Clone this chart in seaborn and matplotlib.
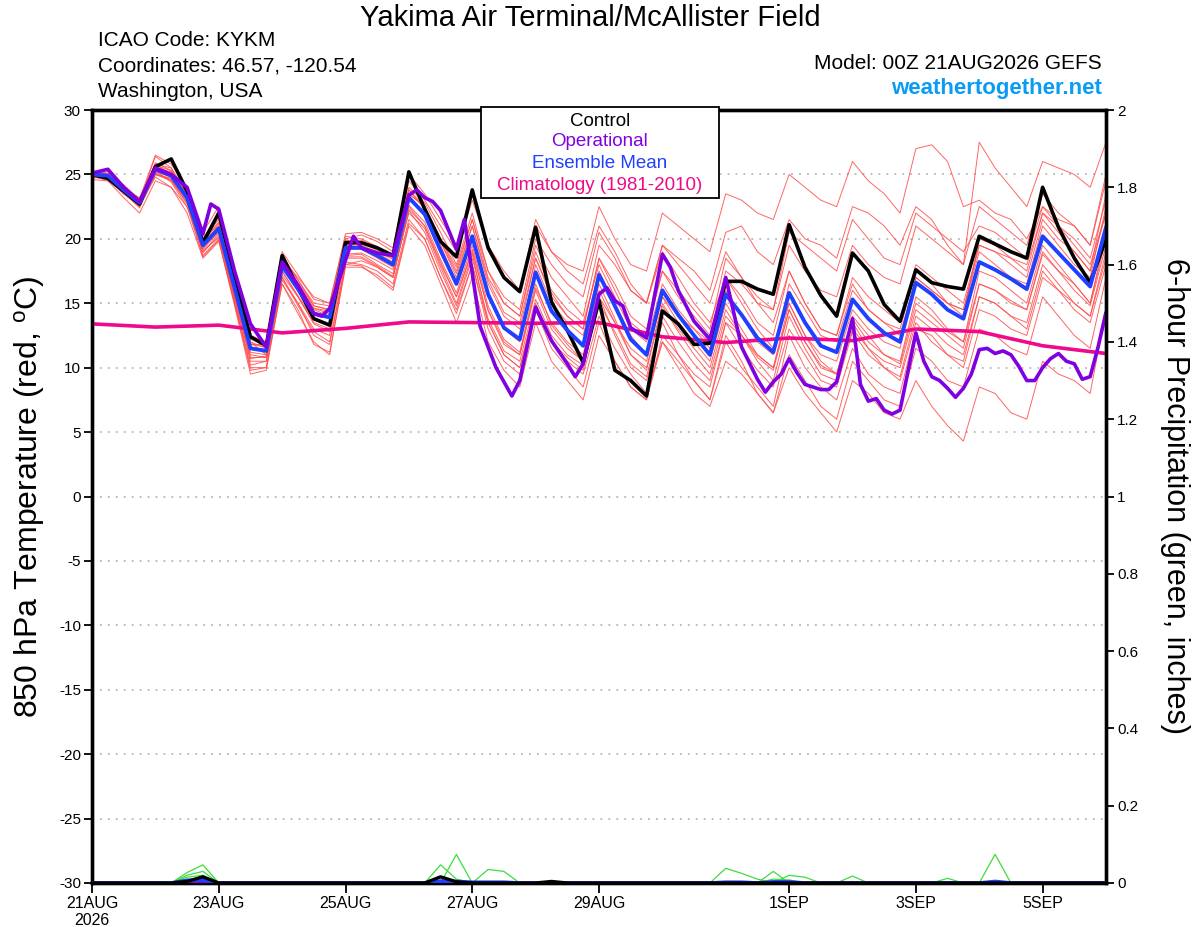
import matplotlib
matplotlib.use("Agg")
import matplotlib.pyplot as plt
import numpy as np
import pandas as pd
import seaborn as sns
from matplotlib.patches import Rectangle

# ---------------- data ----------------
forecast_hours = list(range(0, 385, 6))  # 00Z 21AUG2026 .. +384h, 6-hourly

control_temp = [25.0, 24.7, 23.7, 22.7, 25.6, 26.2, 23.7, 19.7, 22.0, 17.0, 12.4, 11.7, 18.7,
                16.2, 13.8, 13.3, 19.7, 19.7, 19.3, 18.7, 25.2, 22.3, 19.8, 18.6, 23.8, 19.3,
                17.0, 15.9, 20.9, 15.1, 12.9, 10.4, 15.2, 9.8, 9.0, 7.8, 14.4, 13.4, 11.8,
                11.9, 16.7, 16.7, 16.1, 15.7, 21.1, 17.8, 15.6, 14.0, 18.9, 17.5, 14.9, 13.6,
                17.6, 16.6, 16.3, 16.1, 20.2, 19.6, 19.0, 18.5, 24.0, 20.9, 18.5, 16.6, 20.0]

mean_temp = [25.0, 24.9, 23.8, 22.8, 25.4, 24.9, 23.2, 19.5, 20.8, 16.2, 11.5, 11.3, 17.9,
             16.1, 14.2, 13.9, 19.3, 19.3, 18.7, 18.0, 23.2, 21.9, 19.1, 16.5, 20.2, 15.7,
             13.1, 12.2, 17.4, 14.4, 12.9, 11.7, 17.2, 14.8, 12.2, 11.0, 16.0, 14.1, 12.5,
             11.0, 15.7, 14.1, 12.3, 11.2, 15.8, 13.5, 11.7, 11.2, 15.3, 13.8, 12.7, 12.0,
             16.6, 15.7, 14.5, 13.8, 18.2, 17.6, 16.9, 16.1, 20.2, 18.9, 17.6, 16.3, 20.9]

op_hours = [0, 6, 12, 18, 24, 30, 36, 42, 45, 48, 54, 60, 66, 72, 78, 84, 87, 90, 99, 102,
            108, 114, 120, 123, 126, 129, 132, 138, 141, 147, 153, 159, 162, 168, 174, 180,
            183, 186, 192, 195, 198, 201, 204, 210, 216, 219, 222, 228, 234, 240, 246, 252,
            255, 258, 261, 264, 267, 270, 276, 279, 282, 288, 291, 294, 297, 300, 303, 306,
            312, 315, 318, 321, 324, 327, 330, 333, 336, 339, 342, 345, 348, 351, 354, 357,
            360, 363, 366, 369, 372, 375, 378, 381, 384]
op_temp = [25.1, 25.4, 24.0, 22.9, 25.5, 25.0, 24.0, 20.4, 22.7, 22.3, 17.5, 13.4, 11.6, 18.2,
           16.4, 14.2, 14.0, 14.6, 20.2, 19.3, 18.9, 18.7, 23.4, 23.8, 23.2, 22.9, 22.2, 19.2,
           21.5, 13.2, 10.0, 7.8, 9.0, 14.7, 12.1, 10.3, 9.3, 10.3, 15.7, 16.2, 15.2, 14.8,
           13.1, 12.3, 18.8, 17.8, 16.0, 13.6, 12.2, 17.0, 11.6, 9.1, 8.1, 8.9, 9.5, 10.7,
           9.6, 8.7, 8.3, 8.3, 8.9, 13.8, 8.7, 7.4, 7.6, 6.7, 6.4, 6.7, 12.7, 10.5, 9.3, 9.0,
           8.4, 7.7, 8.4, 9.5, 11.4, 11.5, 11.1, 11.3, 11.0, 10.1, 9.0, 9.0, 10.0, 10.7,
           11.1, 10.5, 10.3, 9.1, 9.3, 11.6, 14.3]

clim_days = list(range(0, 17))
clim_temp = [13.4, 13.15, 13.3, 12.7, 13.05, 13.55, 13.5, 13.45, 13.5, 12.4, 11.95,
             12.3, 12.1, 13.0, 12.8, 11.7, 11.1]

member_temps = [
    [25.2, 24.6, 23.5, 22.9, 26.4, 25.5, 23.0, 20.0, 21.5, 17.0, 12.0, 11.0, 18.4, 17.0, 15.5, 15.0, 20.2, 20.0, 19.4, 18.6,
     24.5, 23.0, 21.0, 19.0, 23.0, 19.5, 17.5, 16.0, 21.0, 19.0, 18.0, 17.5, 22.5, 20.0, 18.0, 17.5, 22.0, 21.0, 20.0, 19.0,
     23.5, 23.0, 22.0, 21.5, 25.0, 24.0, 23.0, 22.5, 26.0, 24.5, 23.5, 22.0, 27.0, 27.3, 26.0, 22.5, 23.0, 22.0, 21.5, 20.0,
     22.5, 21.5, 21.0, 19.5, 25.0],
    [24.8, 25.1, 24.2, 23.0, 25.8, 25.0, 23.8, 20.2, 21.0, 16.5, 11.8, 11.8, 18.8, 16.8, 14.8, 14.5, 20.0, 20.3, 19.8, 19.0,
     23.5, 22.5, 20.0, 17.5, 21.5, 17.0, 15.0, 14.0, 19.5, 17.0, 15.5, 14.0, 19.5, 18.0, 16.0, 15.0, 19.5, 18.5, 17.5, 16.0,
     20.5, 21.0, 19.0, 18.0, 21.5, 20.0, 19.5, 18.5, 22.5, 22.0, 21.0, 19.5, 22.5, 21.5, 19.5, 18.0, 27.5, 25.5, 24.0, 22.5,
     26.0, 25.5, 25.0, 24.0, 27.5],
    [24.9, 24.5, 23.6, 22.6, 24.8, 24.0, 22.5, 18.7, 20.0, 15.0, 10.0, 10.0, 16.8, 15.0, 12.5, 11.8, 18.2, 18.0, 17.5, 16.5,
     21.5, 20.0, 17.0, 14.5, 18.0, 13.5, 11.0, 10.0, 15.0, 12.0, 10.5, 9.5, 14.0, 11.5, 9.5, 8.0, 12.0, 10.0, 8.0, 7.0,
     10.5, 9.5, 8.0, 6.5, 10.0, 8.0, 6.5, 5.0, 9.0, 8.0, 6.5, 6.0, 9.0, 7.0, 5.5, 4.3, 8.5, 8.0, 6.5, 6.0,
     10.5, 9.5, 9.0, 8.0, 14.5],
    [25.1, 25.0, 24.0, 22.5, 25.0, 24.5, 22.8, 18.9, 20.4, 15.6, 10.8, 10.8, 17.2, 15.5, 13.5, 13.0, 18.7, 18.8, 18.0, 17.3,
     22.0, 20.8, 17.8, 15.0, 18.8, 13.5, 11.0, 10.0, 14.5, 11.5, 10.0, 8.5, 13.5, 10.5, 8.5, 7.5, 12.0, 10.5, 9.0, 7.5,
     12.0, 10.0, 8.5, 7.0, 12.5, 10.0, 8.5, 7.5, 11.5, 9.5, 8.5, 8.0, 13.0, 12.5, 11.0, 10.5, 15.5, 15.0, 14.0, 13.5,
     18.0, 16.5, 15.0, 14.0, 18.5],
    [25.0, 25.2, 24.0, 23.0, 25.9, 25.3, 23.5, 19.8, 21.2, 16.6, 11.6, 11.4, 18.2, 16.5, 14.6, 14.2, 19.6, 19.5, 19.0, 18.4,
     23.8, 22.3, 19.8, 17.3, 21.0, 16.8, 14.3, 13.5, 18.5, 15.8, 14.0, 13.0, 18.5, 16.0, 13.5, 12.5, 17.5, 15.5, 14.0, 12.5,
     17.0, 15.5, 13.5, 12.5, 17.5, 15.0, 13.0, 12.5, 17.0, 15.5, 14.5, 13.5, 18.0, 17.0, 16.0, 15.0, 19.5, 19.0, 18.0, 17.0,
     21.5, 20.0, 19.0, 17.5, 22.0],
    [24.8, 24.7, 23.5, 22.5, 25.0, 24.6, 22.9, 19.2, 20.5, 15.8, 11.0, 10.8, 17.5, 15.6, 13.7, 13.3, 18.8, 18.9, 18.3, 17.6,
     22.6, 21.3, 18.4, 15.8, 19.5, 14.8, 12.2, 11.2, 16.5, 13.3, 11.8, 10.5, 16.0, 13.5, 11.0, 9.8, 14.8, 12.8, 11.0, 9.5,
     14.0, 12.5, 10.8, 9.8, 14.5, 12.0, 10.2, 9.5, 13.8, 12.0, 11.0, 10.3, 15.0, 14.0, 12.8, 12.0, 16.5, 16.0, 15.2, 14.5,
     18.8, 17.5, 16.0, 14.8, 19.5],
    [25.3, 25.0, 24.1, 23.1, 26.5, 25.8, 24.0, 20.5, 22.5, 17.5, 12.5, 12.0, 19.0, 17.2, 15.3, 15.0, 20.4, 20.5, 20.0, 19.3,
     25.0, 23.5, 21.5, 19.5, 23.5, 19.5, 17.0, 16.0, 21.5, 19.0, 17.5, 16.5, 21.0, 19.0, 16.5, 15.0, 19.0, 17.0, 15.0, 13.5,
     17.0, 15.0, 13.0, 11.5, 15.0, 12.5, 10.5, 9.5, 13.5, 11.5, 10.0, 9.0, 13.5, 12.0, 11.0, 10.0, 14.5, 14.0, 13.0, 12.5,
     17.0, 16.0, 15.0, 14.0, 19.0],
    [24.6, 24.5, 23.2, 22.0, 24.5, 24.0, 22.0, 18.5, 19.8, 15.0, 9.8, 10.0, 16.5, 14.5, 11.8, 11.2, 17.8, 17.8, 17.2, 16.2,
     21.2, 20.0, 17.0, 14.2, 18.0, 13.0, 10.5, 9.5, 14.5, 12.0, 10.8, 9.8, 15.5, 13.5, 11.5, 10.5, 15.5, 14.0, 13.0, 12.0,
     17.5, 16.5, 15.0, 14.5, 19.5, 17.5, 16.0, 15.5, 19.5, 18.0, 17.0, 16.5, 21.0, 20.0, 19.0, 18.0, 22.5, 21.5, 20.5, 19.5,
     23.5, 22.0, 21.0, 19.5, 24.5],
    [25.0, 24.8, 23.9, 23.0, 25.5, 25.2, 23.5, 19.6, 21.0, 16.0, 11.2, 11.0, 17.8, 16.3, 14.5, 14.0, 19.2, 19.2, 18.5, 17.8,
     23.0, 22.0, 19.5, 16.5, 20.0, 15.5, 13.0, 12.0, 18.0, 15.0, 13.5, 12.5, 17.5, 15.0, 12.5, 11.0, 15.5, 13.5, 12.0, 10.5,
     15.0, 13.0, 11.0, 10.0, 15.0, 12.5, 11.0, 10.5, 14.5, 13.0, 12.0, 11.5, 17.0, 16.0, 15.0, 14.5, 19.0, 18.0, 17.0, 16.5,
     21.0, 19.5, 18.0, 17.0, 22.5],
    [24.9, 24.8, 23.7, 22.7, 25.2, 24.8, 23.0, 19.0, 20.2, 15.5, 10.5, 10.5, 17.0, 15.0, 13.0, 12.5, 18.5, 18.5, 17.8, 17.0,
     22.5, 21.0, 18.0, 15.5, 19.0, 14.5, 12.0, 11.0, 16.0, 13.0, 11.5, 10.5, 15.5, 12.5, 10.0, 9.0, 13.5, 11.0, 9.0, 7.5,
     12.5, 10.5, 8.0, 6.5, 11.0, 9.0, 7.0, 6.0, 10.5, 9.0, 7.5, 7.0, 11.5, 10.5, 9.0, 8.5, 13.0, 12.5, 11.5, 11.0,
     15.5, 14.0, 12.5, 11.5, 17.0],
    [25.1, 24.9, 23.7, 22.9, 25.7, 25.3, 23.6, 20.0, 21.8, 17.0, 12.2, 11.8, 18.5, 16.8, 15.0, 14.8, 19.9, 19.7, 19.1, 18.5,
     24.0, 22.8, 20.5, 18.0, 22.0, 17.5, 15.0, 14.0, 19.0, 16.0, 14.5, 13.5, 18.0, 15.5, 13.0, 12.0, 16.5, 14.5, 13.0, 11.5,
     16.0, 14.0, 12.0, 11.0, 16.5, 14.5, 12.5, 12.0, 16.0, 14.5, 13.5, 13.0, 17.5, 16.5, 15.0, 14.0, 20.0, 19.5, 18.5, 17.5,
     22.0, 20.5, 19.0, 17.5, 23.5],
    [24.7, 24.9, 23.8, 22.6, 25.3, 24.4, 22.5, 19.3, 20.6, 15.2, 10.2, 10.5, 17.0, 14.8, 12.8, 12.0, 18.0, 18.3, 17.8, 17.0,
     22.2, 20.5, 17.5, 14.8, 18.5, 13.8, 11.3, 10.5, 15.3, 12.5, 11.0, 10.2, 15.0, 12.8, 10.3, 9.3, 14.0, 12.0, 10.3, 9.0,
     13.5, 11.5, 9.8, 8.5, 13.0, 11.0, 9.0, 8.5, 12.8, 11.0, 10.0, 9.3, 14.0, 13.0, 11.8, 11.0, 15.5, 15.0, 14.0, 13.0,
     17.5, 16.0, 14.5, 13.5, 18.0],
    [25.0, 24.6, 23.9, 23.2, 25.6, 25.0, 23.4, 19.7, 21.0, 16.5, 11.8, 11.6, 18.3, 16.6, 14.8, 14.5, 19.5, 19.4, 18.9, 18.2,
     23.5, 22.5, 20.0, 17.8, 21.5, 17.5, 15.5, 14.5, 20.0, 18.0, 16.5, 15.5, 20.5, 18.5, 16.0, 15.0, 19.5, 18.0, 16.5, 15.0,
     19.0, 17.0, 15.0, 13.5, 17.5, 15.0, 13.0, 12.5, 16.5, 14.5, 13.5, 12.5, 17.0, 16.0, 15.0, 14.5, 19.5, 19.0, 18.5, 18.0,
     22.0, 21.0, 20.0, 18.5, 23.0],
    [24.8, 24.6, 23.6, 22.4, 25.0, 24.7, 23.1, 19.1, 20.1, 15.3, 10.7, 10.9, 17.5, 15.5, 13.4, 12.8, 18.6, 18.6, 17.9, 17.1,
     22.3, 21.0, 18.2, 15.5, 19.2, 14.4, 11.8, 11.0, 16.2, 13.5, 12.0, 11.0, 16.5, 13.8, 11.0, 10.0, 15.0, 13.0, 11.5, 10.0,
     14.5, 12.5, 10.5, 9.0, 14.0, 11.5, 9.5, 9.0, 13.0, 11.5, 10.5, 10.0, 14.5, 13.5, 12.5, 11.5, 16.5, 16.0, 15.0, 14.5,
     19.0, 17.5, 16.5, 15.0, 20.0],
    [25.2, 25.0, 23.9, 22.8, 25.8, 25.5, 23.6, 19.9, 21.3, 16.8, 12.0, 11.5, 18.4, 16.5, 14.6, 14.4, 19.8, 19.9, 19.3, 18.7,
     23.8, 22.5, 19.8, 17.0, 21.0, 16.5, 14.0, 13.0, 18.5, 15.5, 14.0, 13.0, 18.5, 16.5, 14.0, 13.0, 17.5, 16.0, 14.5, 13.0,
     18.5, 17.0, 15.5, 14.5, 20.5, 19.5, 18.5, 17.5, 21.5, 20.0, 18.5, 18.0, 22.0, 21.0, 20.0, 19.0, 21.0, 20.5, 19.5, 18.5,
     22.5, 21.0, 19.5, 18.0, 22.0],
    [24.9, 24.7, 23.5, 22.6, 25.1, 24.6, 22.7, 18.6, 19.9, 14.8, 9.5, 9.8, 16.5, 14.2, 12.0, 11.0, 18.0, 17.9, 17.0, 16.0,
     21.0, 19.5, 16.5, 13.5, 17.0, 12.0, 9.8, 8.5, 13.5, 10.5, 9.0, 7.5, 12.5, 10.5, 8.5, 7.5, 12.5, 11.0, 9.5, 8.5,
     13.5, 12.5, 11.0, 10.0, 14.5, 12.0, 10.0, 9.5, 14.0, 12.5, 11.0, 10.5, 15.5, 14.5, 13.0, 12.0, 17.5, 17.0, 16.0, 15.0,
     19.5, 18.0, 16.5, 15.0, 20.5],
]

control_precip = [0, 0, 0, 0, 0, 0, 0.004, 0.016, 0, 0, 0, 0, 0,
                  0, 0, 0, 0, 0, 0, 0, 0, 0, 0.016, 0.003, 0, 0,
                  0, 0, 0, 0.004, 0, 0, 0, 0, 0, 0, 0, 0, 0,
                  0, 0, 0, 0, 0, 0, 0, 0, 0, 0, 0, 0, 0,
                  0, 0, 0, 0, 0, 0, 0, 0, 0, 0, 0, 0, 0]
mean_precip = [0, 0, 0, 0, 0, 0, 0.007, 0.008, 0, 0, 0, 0, 0,
               0, 0, 0, 0, 0, 0, 0, 0, 0, 0.005, 0.004, 0.002, 0.002,
               0.002, 0, 0, 0, 0, 0, 0, 0, 0, 0, 0, 0, 0,
               0, 0.002, 0.002, 0, 0.003, 0.003, 0, 0, 0, 0, 0, 0, 0,
               0, 0, 0, 0, 0, 0.004, 0, 0, 0, 0, 0, 0, 0]
op_precip = [0, 0, 0, 0, 0, 0, 0, 0.003, 0, 0, 0, 0, 0,
             0, 0, 0, 0, 0, 0, 0, 0, 0, 0.002, 0, 0, 0,
             0, 0, 0, 0, 0, 0, 0, 0, 0, 0, 0, 0, 0,
             0, 0, 0, 0, 0, 0, 0, 0, 0, 0, 0, 0, 0,
             0, 0, 0, 0, 0, 0, 0, 0, 0, 0, 0, 0, 0]
member_precip = [
    [0, 0, 0, 0, 0, 0, 0.027, 0.047, 0, 0, 0, 0, 0,
     0, 0, 0, 0, 0, 0, 0, 0, 0, 0, 0, 0, 0,
     0, 0, 0, 0, 0, 0, 0, 0, 0, 0, 0, 0, 0,
     0, 0.038, 0.025, 0.01, 0, 0, 0, 0, 0, 0, 0, 0, 0,
     0, 0, 0, 0, 0, 0.074, 0, 0, 0, 0, 0, 0, 0],
    [0, 0, 0, 0, 0, 0, 0.02, 0.03, 0, 0, 0, 0, 0,
     0, 0, 0, 0, 0, 0, 0, 0, 0, 0.047, 0.01, 0, 0,
     0, 0, 0, 0, 0, 0, 0, 0, 0, 0, 0, 0, 0,
     0, 0, 0, 0, 0.03, 0, 0, 0, 0, 0.018, 0, 0, 0,
     0, 0, 0, 0, 0, 0, 0, 0, 0, 0, 0, 0, 0],
    [0, 0, 0, 0, 0, 0, 0.015, 0.02, 0, 0, 0, 0, 0,
     0, 0, 0, 0, 0, 0, 0, 0, 0, 0, 0.074, 0, 0.035,
     0.03, 0, 0, 0, 0, 0, 0, 0, 0, 0, 0, 0, 0,
     0, 0, 0, 0, 0, 0.02, 0.015, 0, 0, 0, 0, 0, 0,
     0, 0, 0, 0, 0, 0, 0, 0, 0, 0, 0, 0, 0],
    [0, 0, 0, 0, 0, 0, 0.005, 0.01, 0, 0, 0, 0, 0,
     0, 0, 0, 0, 0, 0, 0, 0, 0, 0, 0, 0, 0,
     0, 0, 0, 0, 0, 0, 0, 0, 0, 0, 0, 0, 0,
     0, 0, 0, 0, 0.01, 0.008, 0, 0, 0, 0.004, 0, 0, 0,
     0, 0, 0.012, 0, 0, 0, 0, 0, 0, 0, 0, 0, 0],
]

tick_days = [0, 2, 4, 6, 8, 11, 13, 15]
tick_labels = ["21AUG\n2026", "23AUG", "25AUG", "27AUG", "29AUG", "1SEP", "3SEP", "5SEP"]
temp_ticks = [30, 25, 20, 15, 10, 5, 0, -5, -10, -15, -20, -25, -30]
precip_ticks = [0, 0.2, 0.4, 0.6, 0.8, 1.0, 1.2, 1.4, 1.6, 1.8, 2.0]
precip_labels = ["0", "0.2", "0.4", "0.6", "0.8", "1", "1.2", "1.4", "1.6", "1.8", "2"]

# ---------------- style ----------------
sns.set_style("white")
plt.rcParams["font.family"] = ["Liberation Sans", "DejaVu Sans"]
plt.rcParams["axes.unicode_minus"] = False
plt.rcParams["mathtext.fontset"] = "custom"
plt.rcParams["mathtext.rm"] = "Liberation Sans"
plt.rcParams["mathtext.it"] = "Liberation Sans"
plt.rcParams["text.color"] = "black"
plt.rcParams["axes.labelcolor"] = "black"
plt.rcParams["xtick.color"] = "black"
plt.rcParams["ytick.color"] = "black"

C_MEMBER = "#ff4a4a"
C_PRECIP = "#3ddc3d"
C_CONTROL = "#000000"
C_OP = "#8000e0"
C_MEAN = "#2040ff"
C_CLIM = "#ee0a8a"

days = [h / 24 for h in forecast_hours]
op_days = [h / 24 for h in op_hours]

mem_rows = []
for k, series in enumerate(member_temps):
    for d, v in zip(days, series):
        mem_rows.append({"member": k, "day": d, "temp": v})
mem_df = pd.DataFrame(mem_rows)

pre_rows = []
for k, series in enumerate(member_precip):
    for d, v in zip(days, series):
        pre_rows.append({"member": k, "day": d, "precip": v})
pre_df = pd.DataFrame(pre_rows)

fig = plt.figure(figsize=(12, 9.27), dpi=100)
ax = fig.add_axes([92 / 1200, 1 - 883 / 927, (1106 - 92) / 1200, (883 - 110) / 927])

sns.lineplot(data=mem_df, x="day", y="temp", units="member", estimator=None,
             color=C_MEMBER, lw=0.7, alpha=0.85, ax=ax, zorder=2, legend=False)
sns.lineplot(x=clim_days, y=clim_temp, color=C_CLIM, lw=2.6, ax=ax, zorder=3)
sns.lineplot(x=days, y=control_temp, color=C_CONTROL, lw=2.6, ax=ax, zorder=4)
sns.lineplot(x=days, y=mean_temp, color=C_MEAN, lw=2.8, ax=ax, zorder=5)
sns.lineplot(x=op_days, y=op_temp, color=C_OP, lw=2.6, ax=ax, zorder=6, sort=False)

ax.set_xlim(0, 16)
ax.set_ylim(-30, 30)
ax.set_yticks(temp_ticks)
ax.set_yticklabels([str(t) for t in temp_ticks])
ax.set_xticks(tick_days)
ax.set_xticklabels(tick_labels)
ax.set_xlabel("")
ax.set_ylabel("")
for t in temp_ticks[1:-1]:
    ax.axhline(t, color="#aaaaaa", lw=1.1, ls=(0, (1.2, 4)), zorder=1)
ax.tick_params(axis="y", direction="out", length=6, width=1.3, labelsize=11, pad=2, left=True)
ax.tick_params(axis="x", direction="out", length=7, width=1.3, labelsize=11.5, pad=2, bottom=True)
for s in ax.spines.values():
    s.set_linewidth(2.4)
    s.set_color("black")

ax2 = ax.twinx()
sns.lineplot(data=pre_df, x="day", y="precip", units="member", estimator=None,
             color=C_PRECIP, lw=0.9, ax=ax2, zorder=2, legend=False)
sns.lineplot(x=days, y=op_precip, color=C_OP, lw=2.2, ax=ax2, zorder=3)
sns.lineplot(x=days, y=mean_precip, color=C_MEAN, lw=2.6, ax=ax2, zorder=4)
sns.lineplot(x=days, y=control_precip, color=C_CONTROL, lw=2.4, ax=ax2, zorder=5)
ax2.set_ylim(0, 2)
ax2.set_xlim(0, 16)
ax2.set_yticks(precip_ticks)
ax2.set_yticklabels(precip_labels)
ax2.set_ylabel("")
ax2.tick_params(axis="y", direction="out", length=6, width=1.3, labelsize=11, pad=2, right=True)
for s in ax2.spines.values():
    s.set_linewidth(2.4)
    s.set_color("black")

# ---------------- texts ----------------
fig.text(0.4917, 0.9806, "Yakima Air Terminal/McAllister Field", ha="center", va="center", fontsize=21)
fig.text(0.0817, 0.9568, "ICAO Code: KYKM", ha="left", va="center", fontsize=15)
fig.text(0.0817, 0.9288, "Coordinates: 46.57, -120.54", ha="left", va="center", fontsize=15)
fig.text(0.0817, 0.9008, "Washington, USA", ha="left", va="center", fontsize=15)
fig.text(0.9183, 0.932, "Model: 00Z 21AUG2026 GEFS", ha="right", va="center", fontsize=15)
fig.text(0.9183, 0.904, "weathertogether.net", ha="right", va="center", fontsize=16,
         fontweight="bold", color="#0a9cf5")

fig.text(0.025, 0.4645, r"850 hPa Temperature (red, $^{\mathrm{o}}$C)", rotation=90,
         ha="center", va="center", fontsize=23)
fig.text(0.979, 0.4645, "6-hour Precipitation (green, inches)", rotation=-90,
         ha="center", va="center", fontsize=22)

# legend box
fig.add_artist(Rectangle((481 / 1200, 1 - 198 / 927), (719 - 481) / 1200, (198 - 107) / 927,
                         transform=fig.transFigure, facecolor="white", edgecolor="black",
                         lw=1.3, zorder=5))
leg_items = [("Control", C_CONTROL), ("Operational", C_OP),
             ("Ensemble Mean", C_MEAN), ("Climatology (1981-2010)", C_CLIM)]
for (label, col), ypix in zip(leg_items, [121, 142, 163, 185]):
    fig.text(0.5, 1 - ypix / 927, label, ha="center", va="center", fontsize=13.5,
             color=col, zorder=6)

fig.savefig("out.png", dpi=100)
